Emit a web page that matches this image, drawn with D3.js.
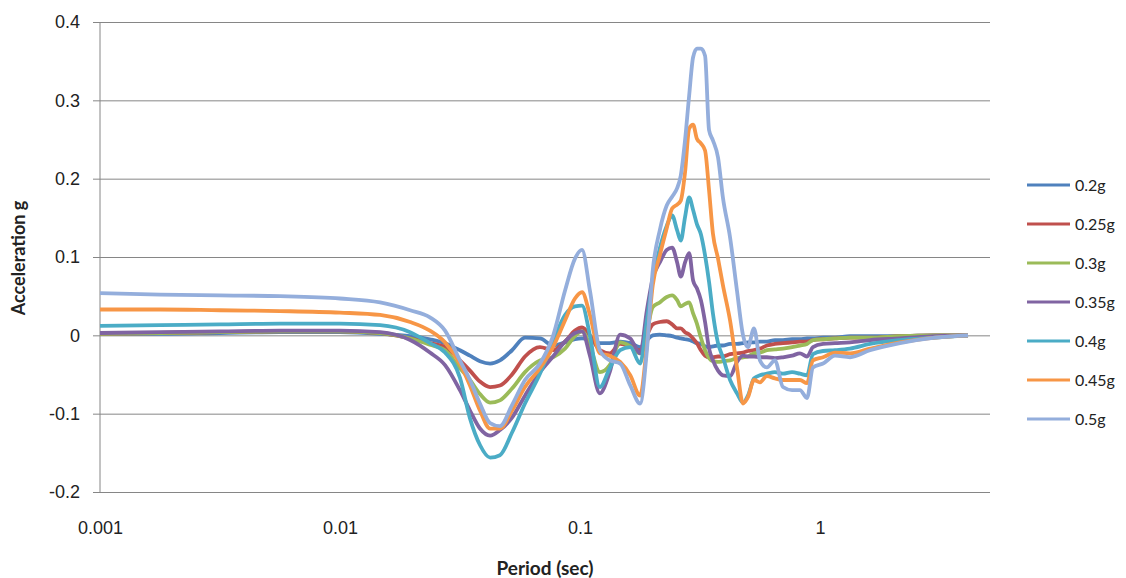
<!DOCTYPE html>
<head>
<style>

body {
margin: 0;
background: #fff;
}

svg {
font-family: Lato, "Open Sans", sans-serif;
}

</style>

<script src="https://d3js.org/d3.v7.min.js"></script>
</head>

<body>

<svg id="chartSvg" width="1126" height="578"></svg>

<script>

// Periods (sec) shared by every series
var periods = [0.001, 0.00178, 0.00316, 0.00562, 0.01, 0.0147, 0.0196, 0.0237, 0.0274, 0.0316,
    0.0348, 0.0383, 0.0422, 0.0464, 0.0521, 0.059, 0.0681, 0.0772, 0.0866, 0.0953,
    0.102, 0.11, 0.121, 0.133, 0.147, 0.162, 0.178, 0.19, 0.201, 0.215,
    0.23, 0.242, 0.254, 0.263, 0.274, 0.285, 0.296, 0.307, 0.319, 0.332,
    0.345, 0.358, 0.376, 0.394, 0.422, 0.451, 0.478, 0.501, 0.531, 0.562,
    0.601, 0.649, 0.701, 0.765, 0.825, 0.883, 0.935, 1.03, 1.155, 1.334,
    1.616, 2.154, 3.015, 4.138];

var seriesNames = ["0.2g", "0.25g", "0.3g", "0.35g", "0.4g", "0.45g", "0.5g"];
var seriesColors = ["#4F81BD", "#C0504D", "#9BBB59", "#8064A2", "#4BACC6", "#F79646", "#94AEDC"];

// Acceleration (g) for each series, one value per period
var acc02 = [0.002, 0.002, 0.003, 0.004, 0.004, 0.002, -0.001, -0.005, -0.010, -0.019,
    -0.026, -0.033, -0.036, -0.032, -0.019, -0.003, -0.004, -0.013, -0.009, -0.005,
    -0.004, -0.006, -0.010, -0.010, -0.008, -0.010, -0.015, -0.006, 0.000, 0.001,
    0.000, -0.001, -0.003, -0.004, -0.005, -0.006, -0.008, -0.010, -0.011, -0.014,
    -0.015, -0.014, -0.013, -0.013, -0.011, -0.011, -0.010, -0.009, -0.009, -0.008,
    -0.008, -0.006, -0.006, -0.005, -0.005, -0.004, -0.004, -0.003, -0.003, -0.001,
    -0.001, -0.001, 0.000, 0.000];

var acc025 = [0.002, 0.003, 0.004, 0.005, 0.005, 0.003, -0.004, -0.010, -0.015, -0.032,
    -0.045, -0.059, -0.066, -0.064, -0.050, -0.027, -0.015, -0.019, -0.008, 0.006,
    0.010, 0.000, -0.019, -0.023, -0.011, -0.014, -0.019, 0.000, 0.014, 0.017,
    0.018, 0.014, 0.009, 0.009, 0.004, 0.001, -0.004, -0.010, -0.019, -0.026,
    -0.028, -0.028, -0.027, -0.027, -0.024, -0.023, -0.022, -0.020, -0.019, -0.017,
    -0.013, -0.011, -0.010, -0.009, -0.008, -0.008, -0.006, -0.005, -0.004, -0.003,
    -0.003, -0.001, 0.000, 0.000];

var acc03 = [0.002, 0.003, 0.004, 0.005, 0.005, 0.003, -0.004, -0.012, -0.019, -0.042,
    -0.057, -0.075, -0.086, -0.083, -0.068, -0.047, -0.032, -0.028, -0.017, -0.001,
    0.005, -0.013, -0.047, -0.038, -0.009, -0.014, -0.023, 0.006, 0.036, 0.042,
    0.049, 0.051, 0.045, 0.037, 0.040, 0.042, 0.028, 0.015, -0.003, -0.019,
    -0.029, -0.033, -0.034, -0.033, -0.032, -0.029, -0.028, -0.027, -0.023, -0.022,
    -0.019, -0.018, -0.017, -0.015, -0.013, -0.011, -0.006, -0.005, -0.004, -0.003,
    -0.003, -0.001, 0.000, 0.000];

var acc035 = [0.003, 0.004, 0.005, 0.006, 0.006, 0.004, -0.006, -0.022, -0.038, -0.070,
    -0.096, -0.119, -0.128, -0.121, -0.105, -0.077, -0.047, -0.027, -0.008, 0.003,
    0.005, -0.026, -0.074, -0.047, 0.001, -0.004, -0.023, 0.032, 0.073, 0.093,
    0.109, 0.112, 0.093, 0.075, 0.093, 0.105, 0.070, 0.060, 0.045, 0.017,
    -0.017, -0.032, -0.045, -0.051, -0.052, -0.034, -0.026, -0.027, -0.027, -0.028,
    -0.028, -0.029, -0.028, -0.026, -0.023, -0.027, -0.015, -0.011, -0.010, -0.009,
    -0.006, -0.004, -0.001, 0.000];

var acc04 = [0.012, 0.013, 0.014, 0.015, 0.015, 0.013, 0.004, -0.010, -0.022, -0.054,
    -0.106, -0.140, -0.156, -0.153, -0.124, -0.087, -0.049, -0.008, 0.026, 0.037,
    0.038, 0.000, -0.066, -0.042, -0.019, -0.015, -0.036, 0.019, 0.070, 0.111,
    0.140, 0.153, 0.134, 0.121, 0.151, 0.176, 0.160, 0.142, 0.129, 0.102,
    0.068, 0.028, -0.010, -0.028, -0.057, -0.074, -0.086, -0.077, -0.055, -0.051,
    -0.049, -0.047, -0.049, -0.047, -0.049, -0.051, -0.024, -0.020, -0.019, -0.017,
    -0.011, -0.006, -0.003, 0.000];

var acc045 = [0.033, 0.033, 0.032, 0.031, 0.029, 0.026, 0.017, 0.006, -0.009, -0.036,
    -0.064, -0.096, -0.119, -0.119, -0.096, -0.066, -0.042, -0.015, 0.019, 0.047,
    0.055, 0.026, -0.023, -0.026, -0.034, -0.051, -0.077, -0.013, 0.064, 0.102,
    0.137, 0.162, 0.167, 0.172, 0.208, 0.264, 0.269, 0.251, 0.245, 0.236,
    0.185, 0.130, 0.098, 0.064, 0.019, -0.041, -0.087, -0.079, -0.057, -0.060,
    -0.052, -0.055, -0.057, -0.057, -0.057, -0.061, -0.032, -0.028, -0.022, -0.023,
    -0.017, -0.009, -0.003, 0.000];

var acc05 = [0.054, 0.052, 0.051, 0.050, 0.047, 0.042, 0.032, 0.023, 0.006, -0.032,
    -0.057, -0.087, -0.112, -0.116, -0.089, -0.057, -0.036, -0.001, 0.057, 0.098,
    0.109, 0.057, -0.019, -0.032, -0.036, -0.064, -0.087, -0.019, 0.083, 0.134,
    0.166, 0.177, 0.188, 0.204, 0.249, 0.306, 0.355, 0.366, 0.366, 0.357,
    0.262, 0.249, 0.227, 0.176, 0.125, 0.057, 0.000, -0.015, 0.009, -0.032,
    -0.041, -0.032, -0.066, -0.070, -0.070, -0.080, -0.041, -0.036, -0.026, -0.028,
    -0.019, -0.010, -0.003, 0.000];

var seriesValues = [acc02, acc025, acc03, acc035, acc04, acc045, acc05];

var xTicks = [0.001, 0.01, 0.1, 1];
var yTicks = [-0.2, -0.1, 0, 0.1, 0.2, 0.3, 0.4];

// plot box (window.top is reserved, so no plain "top")
var plotLeft = 100, plotRight = 990, plotTop = 22, plotBottom = 492;
var gridColor = "#868686";
var textColor = "#222";

var x = d3.scaleLog()
    .domain([0.001, 5.11])
    .range([plotLeft, plotRight]);

var y = d3.scaleLinear()
    .domain([-0.2, 0.4])
    .range([plotBottom, plotTop]);

var svg = d3.select("#chartSvg");

// Horizontal gridlines, drawn with an axis whose ticks span the plot
var grid = svg.append("g")
    .attr("transform", "translate(" + plotLeft + ",0)")
    .call(d3.axisLeft(y).tickValues(yTicks).tickSize(-(plotRight - plotLeft)).tickFormat(""));
grid.select(".domain").remove();
grid.selectAll("line").attr("stroke", gridColor);

// Y axis with short outer ticks and labels
var yAxis = svg.append("g")
    .attr("transform", "translate(" + plotLeft + ",0)")
    .call(d3.axisLeft(y).tickValues(yTicks).tickSize(7).tickPadding(13)
        .tickFormat(function(d) { return String(d); }));
yAxis.select(".domain").attr("stroke", gridColor).attr("d", "M0," + plotTop + "V" + plotBottom);
yAxis.selectAll("line").attr("stroke", gridColor);
yAxis.selectAll("text").attr("font-size", 18).attr("fill", textColor);

// X axis labels only, the -0.2 gridline is the bottom edge
var xAxis = svg.append("g")
    .attr("transform", "translate(0," + plotBottom + ")")
    .call(d3.axisBottom(x).tickValues(xTicks).tickSize(0).tickPadding(29)
        .tickFormat(function(d) { return String(d); }));
xAxis.select(".domain").remove();
xAxis.selectAll("text").attr("font-size", 18).attr("fill", textColor);

// One line per series
var line = d3.line()
    .x(function(d) { return x(d[0]); })
    .y(function(d) { return y(d[1]); })
    .curve(d3.curveMonotoneX);

svg.append("g")
    .selectAll("path")
    .data(seriesValues)
    .enter().append("path")
    .attr("fill", "none")
    .attr("stroke", function(d, i) { return seriesColors[i]; })
    .attr("stroke-width", 3.8)
    .attr("stroke-linejoin", "round")
    .attr("d", function(vals) {
        return line(vals.map(function(v, j) { return [periods[j], v]; }));
    });

// Axis titles
svg.append("text")
    .attr("x", 545)
    .attr("y", 575)
    .attr("text-anchor", "middle")
    .attr("font-size", 19)
    .attr("font-weight", "bold")
    .attr("fill", textColor)
    .text("Period (sec)");

svg.append("text")
    .attr("transform", "translate(25,258) rotate(-90)")
    .attr("text-anchor", "middle")
    .attr("font-size", 18)
    .attr("font-weight", "bold")
    .attr("fill", textColor)
    .text("Acceleration g");

// Legend
var legend = svg.append("g")
    .selectAll("g")
    .data(seriesNames)
    .enter().append("g")
    .attr("transform", function(d, i) { return "translate(1027," + (185 + i * 39) + ")"; });

legend.append("line")
    .attr("x1", 0)
    .attr("x2", 43)
    .attr("stroke", function(d, i) { return seriesColors[i]; })
    .attr("stroke-width", 3);

legend.append("text")
    .attr("x", 48)
    .attr("dy", "0.35em")
    .attr("font-size", 16)
    .attr("fill", textColor)
    .text(function(d) { return d; });

</script>

</body>

</html>
